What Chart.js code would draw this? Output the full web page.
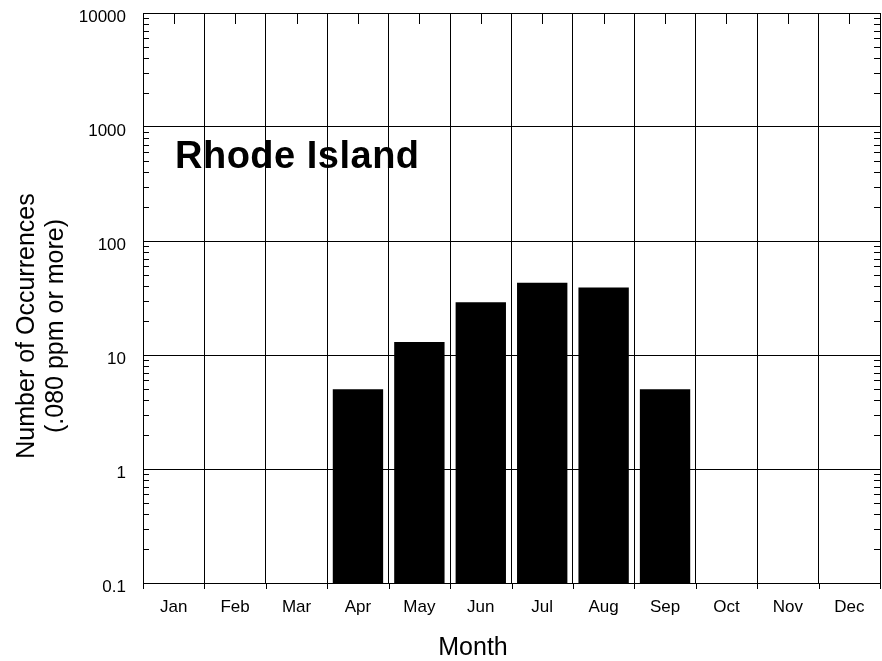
<!DOCTYPE html>
<html>
<head>
<meta charset="utf-8">
<script src="https://cdn.jsdelivr.net/npm/chart.js@4"></script>
<style>
  body { margin: 0; background: #fff; }
</style>
</head>
<body>
<canvas id="grafico" width="882" height="661"></canvas>
<script>
// Dados (ocorrências de ozônio por mês)
const meses = ['Jan', 'Feb', 'Mar', 'Apr', 'May', 'Jun', 'Jul', 'Aug', 'Sep', 'Oct', 'Nov', 'Dec'];
const ocorrencias = [null, null, null, 5, 13, 29, 43, 39, 5, null, null, null];
const rotulosY = [0.1, 1, 10, 100, 1000, 10000];
const titulo = 'Rhode Island';
const tituloY = ['Number of Occurrences', '(.080 ppm or more)'];
const tituloX = 'Month';

const fonte = "'Liberation Sans', Arial, sans-serif";

// marcas extras: ticks menores, ticks do topo e textos
const extras = {
    id: 'extras',
    afterDraw(chart) {
        const ctx = chart.ctx;
        const x = chart.scales.x;
        const y = chart.scales.y;
        const a = chart.chartArea;
        ctx.save();
        ctx.strokeStyle = '#000';
        ctx.lineWidth = 1;
        ctx.beginPath();
        // ticks no topo, no centro de cada mês
        meses.forEach((m, i) => {
            let px = Math.round(x.getPixelForValue(i)) + 0.5;
            ctx.moveTo(px, a.top);
            ctx.lineTo(px, a.top + 11);
        });
        // ticks embaixo, nas divisões
        const larg = (a.right - a.left) / meses.length;
        for (let i = 0; i <= meses.length; i++) {
            let px = Math.round(a.left + i * larg) + 0.5;
            ctx.moveTo(px, a.bottom);
            ctx.lineTo(px, a.bottom + 6);
        }
        // ticks menores do eixo log nos dois lados
        for (let d = 0; d < rotulosY.length - 1; d++) {
            for (let k = 2; k <= 9; k++) {
                let py = Math.round(y.getPixelForValue(rotulosY[d] * k)) + 0.5;
                ctx.moveTo(a.left, py);
                ctx.lineTo(a.left + 6, py);
                ctx.moveTo(a.right, py);
                ctx.lineTo(a.right - 6, py);
            }
        }
        ctx.stroke();

        ctx.fillStyle = '#000';
        // título dentro do gráfico
        ctx.font = 'bold 38px ' + fonte;
        ctx.letterSpacing = '0.5px';
        ctx.textAlign = 'left';
        ctx.textBaseline = 'alphabetic';
        ctx.fillText(titulo, 175, 168);
        ctx.letterSpacing = '0px';

        // título do eixo x
        ctx.font = '25px ' + fonte;
        ctx.textAlign = 'center';
        ctx.textBaseline = 'middle';
        ctx.fillText(tituloX, 473, 648);

        // título do eixo y (duas linhas)
        ctx.translate(0, 326);
        ctx.rotate(-Math.PI / 2);
        ctx.fillText(tituloY[0], 0, 27);
        ctx.fillText(tituloY[1], 0, 56);
        ctx.restore();
    }
};

function criarGrafico() {
    let ctx = document.getElementById('grafico').getContext('2d');
    new Chart(ctx, {
        type: 'bar',
        data: {
            labels: meses,
            datasets: [{
                data: ocorrencias,
                backgroundColor: '#000',
                borderWidth: 0,
                barPercentage: 0.82,
                categoryPercentage: 1
            }]
        },
        options: {
            responsive: false,
            animation: false,
            layout: { padding: { top: 13, right: 2, left: 0, bottom: 0 } },
            plugins: {
                legend: { display: false },
                tooltip: { enabled: false }
            },
            scales: {
                x: {
                    grid: { color: '#000', lineWidth: 1, drawTicks: false, offset: true },
                    border: { color: '#000', width: 1 },
                    ticks: { color: '#000', padding: 14, font: { family: fonte, size: 17 } },
                    afterFit: s => { s.height = 78; s.paddingLeft = 0; s.paddingRight = 0; }
                },
                y: {
                    type: 'logarithmic',
                    min: 0.1,
                    max: 10000,
                    grid: { color: '#000', lineWidth: 1, drawTicks: false },
                    border: { color: '#000', width: 1 },
                    ticks: {
                        color: '#000',
                        padding: 17,
                        labelOffset: 4,
                        font: { family: fonte, size: 17 },
                        callback: v => String(v)
                    },
                    afterBuildTicks: s => { s.ticks = rotulosY.map(v => ({ value: v })); },
                    afterFit: s => { s.width = 143; s.paddingTop = 0; s.paddingBottom = 0; }
                }
            }
        },
        plugins: [extras]
    });
}

document.addEventListener('DOMContentLoaded', criarGrafico);
</script>
</body>
</html>
